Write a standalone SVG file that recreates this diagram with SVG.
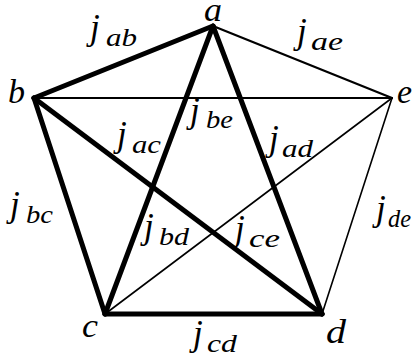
<svg xmlns="http://www.w3.org/2000/svg" width="414" height="362" viewBox="0 0 414 362">
<style>
.thick{stroke:#000;stroke-width:5;stroke-linecap:round;fill:none}
.thin{stroke:#000;stroke-width:1.6;stroke-linecap:round;fill:none}
.med{stroke:#000;stroke-width:2.2;stroke-linecap:round;fill:none}
.v{font-family:"Liberation Serif","DejaVu Serif",serif;font-style:italic;font-size:34px;fill:#000}
.j{font-family:"Liberation Serif","DejaVu Serif",serif;font-style:italic;font-size:35px;fill:#000}
.s{font-family:"Liberation Serif","DejaVu Serif",serif;font-style:italic;font-size:25px;fill:#000}
</style>
<rect width="414" height="362" fill="#fff"/>
<g id="connectors">
<line class="med" x1="34" y1="98" x2="392" y2="98"/>
<line class="med" x1="213" y1="26" x2="392" y2="98"/>
<line class="thin" x1="105" y1="314" x2="392" y2="98"/>
<line class="thin" x1="322" y1="314" x2="392" y2="98"/>
<line class="thick" x1="34" y1="98" x2="213" y2="26"/>
<line class="thick" x1="213" y1="26" x2="105" y2="314"/>
<line class="thick" x1="213" y1="26" x2="322" y2="314"/>
<line class="thick" x1="34" y1="98" x2="105" y2="314"/>
<line class="thick" x1="34" y1="98" x2="322" y2="314"/>
<line class="thick" x1="105" y1="314" x2="322" y2="314"/>
</g>
<g id="node-a"><text class="v" x="204" y="21" font-size="31" textLength="18" lengthAdjust="spacingAndGlyphs">a</text></g>
<g id="node-b"><text class="v" x="8" y="103" textLength="17" lengthAdjust="spacingAndGlyphs">b</text></g>
<g id="node-e"><text class="v" x="397" y="103" textLength="15" lengthAdjust="spacingAndGlyphs">e</text></g>
<g id="node-c"><text class="v" x="82" y="337" textLength="16" lengthAdjust="spacingAndGlyphs">c</text></g>
<g id="node-d"><text class="v" x="326" y="343" textLength="20" lengthAdjust="spacingAndGlyphs">d</text></g>
<g id="labels">
<text class="j" x="90" y="39">j</text><text class="s" x="106" y="46" textLength="31" lengthAdjust="spacingAndGlyphs">ab</text>
<text class="j" x="297" y="43">j</text><text class="s" x="311" y="50" textLength="32" lengthAdjust="spacingAndGlyphs">ae</text>
<text class="j" x="190" y="122">j</text><text class="s" x="206" y="128" textLength="27" lengthAdjust="spacingAndGlyphs">be</text>
<text class="j" x="117" y="146">j</text><text class="s" x="132" y="153" textLength="29" lengthAdjust="spacingAndGlyphs">ac</text>
<text class="j" x="269" y="150">j</text><text class="s" x="282" y="157" textLength="31" lengthAdjust="spacingAndGlyphs">ad</text>
<text class="j" x="10" y="216">j</text><text class="s" x="26" y="223" textLength="27" lengthAdjust="spacingAndGlyphs">bc</text>
<text class="j" x="144" y="238">j</text><text class="s" x="159" y="245" textLength="30" lengthAdjust="spacingAndGlyphs">bd</text>
<text class="j" x="235" y="240">j</text><text class="s" x="249" y="247" textLength="31" lengthAdjust="spacingAndGlyphs">ce</text>
<text class="j" x="376" y="220">j</text><text class="s" x="388" y="227" textLength="23" lengthAdjust="spacingAndGlyphs">de</text>
<text class="j" x="193" y="345">j</text><text class="s" x="207" y="352" textLength="30" lengthAdjust="spacingAndGlyphs">cd</text>
</g>
</svg>
